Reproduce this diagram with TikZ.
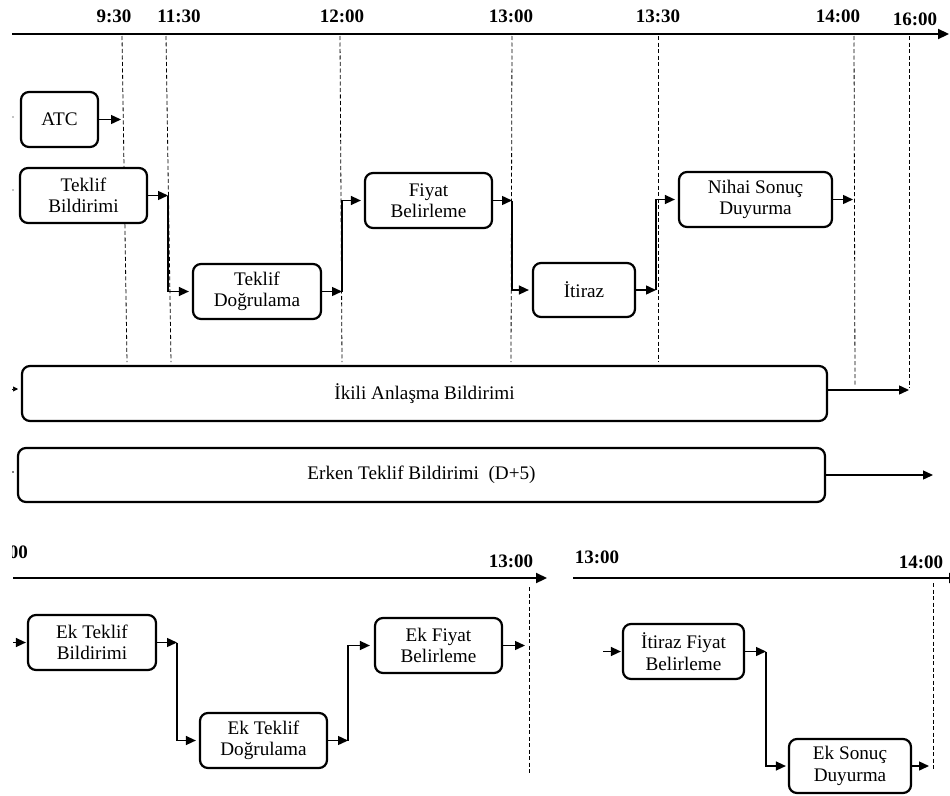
\documentclass[tikz,border=0pt]{standalone}
\usepackage{fontspec}
\setmainfont{Liberation Serif}
\usetikzlibrary{arrows.meta}
\newcommand\bxfont{\fontsize{19.2}{21.5}\selectfont}
\newcommand\tlfont{\fontsize{19}{21}\selectfont\bfseries}
\tikzset{
  box/.style={draw, line width=2.2pt, rounded corners=8pt, fill=white,
    align=center, inner sep=0pt, font=\bxfont},
  arr/.style={line width=1.4pt, -{Triangle[length=10pt,width=9pt]}},
  guide/.style={line width=0.8pt, dash pattern=on 4pt off 2.5pt},
  axis/.style={line width=2.2pt, -{Triangle[length=11pt,width=10pt]}},
  tlabel/.style={font=\tlfont, anchor=base, inner sep=0pt},
  stub/.style={-{Triangle[length=5pt,width=5pt]}, line width=0.6pt},
}
\begin{document}
\begin{tikzpicture}[x=1pt,y=-1pt]
\useasboundingbox (0,0) rectangle (950,795);
\clip (0,0) rectangle (950,795);

% ---------- main day timeline ----------
\coordinate (ax0) at (12,34);
\coordinate (ax1) at (949,34);
\draw[axis] (ax0) -- (ax1);
\node[tlabel] (t0930) at (114,23) {9:30};
\node[tlabel] (t1130) at (179,23) {11:30};
\node[tlabel] (t1200) at (342,23) {12:00};
\node[tlabel] (t1300) at (511,23) {13:00};
\node[tlabel] (t1330) at (658,23) {13:30};
\node[tlabel] (t1400) at (838,22) {14:00};
\node[tlabel] (t1600) at (915,25) {16:00};

% time guides
\draw[guide] (122,36) -- (127,362);
\draw[guide] (166,36) -- (171,362);
\draw[guide] (340,36) -- (342,362);
\draw[guide] (512,36) -- (511,362);
\draw[guide] (658,36) -- (658,362);
\draw[guide] (854,36) -- (855,385);
\draw[guide] (909,36) -- (909,388);

% ---------- process boxes ----------
\node[box, minimum width=77pt,  minimum height=55pt] (ATC) at (59.5,119.5) {ATC};
\node[box, minimum width=127pt, minimum height=55pt] (TB)  at (83.5,195.5) {Teklif\\Bildirimi};
\node[box, minimum width=128pt, minimum height=55pt] (TD)  at (257,291.5) {Teklif\\Doğrulama};
\node[box, minimum width=127pt, minimum height=55pt] (FB)  at (428.5,200.5) {Fiyat\\Belirleme};
\node[box, minimum width=102pt, minimum height=54pt] (IT)  at (584,290) {İtiraz};
\node[box, minimum width=153pt, minimum height=55pt] (NS)  at (755.5,199.5) {Nihai Sonuç\\Duyurma};
\node[box, minimum width=805pt, minimum height=55pt] (IK)  at (424.5,393.5) {İkili Anlaşma Bildirimi};
\node[box, minimum width=807pt, minimum height=54pt] (ER)  at (421.5,475) {Erken Teklif Bildirimi\ \ (D+5)};

% incoming stubs at the left edge
\fill (13,117) circle (0.7);
\fill (13,190) circle (0.7);
\coordinate (sIK0) at (12,389);
\coordinate (sIK1) at (18,389);
\draw[stub] (sIK0) -- (sIK1);
\fill (13,472) circle (0.8);

% junctions on the time guides
\coordinate (a1) at (121,119.5);
\coordinate (j1) at (168,195.5);
\coordinate (j2) at (342,291.5);
\coordinate (j3) at (512,200.5);
\coordinate (j4) at (656,290);
\coordinate (j5) at (853,199.5);
\coordinate (j6) at (909,390);
\coordinate (j7) at (933,475);

\draw[arr] (ATC.east) -- (a1);
\draw[arr] (TB.east) -- (j1);
\draw[arr, shorten >=3pt] (j1) |- (TD.west);
\draw[arr] (TD.east) -- (j2);
\draw[arr, shorten >=3pt] (j2) |- (FB.west);
\draw[arr] (FB.east) -- (j3);
\draw[arr, shorten >=3pt] (j3) |- (IT.west);
\draw[arr] (IT.east) -- (j4);
\draw[arr, shorten >=3pt] (j4) |- (NS.west);
\draw[arr] (NS.east) -- (j5);
\draw[arr] ([yshift=3.5pt]IK.east) -- (j6);
\draw[arr] (ER.east) -- (j7);

% ---------- additional session (left) ----------
\coordinate (bx0) at (13,578);
\coordinate (bx1) at (547,578);
\draw[axis] (bx0) -- (bx1);
% start label, partly hidden behind the left margin
\begin{scope}
  \clip (12,530) rectangle (60,570);
  \node[tlabel, anchor=base east] (tb12) at (28,558) {12:00};
\end{scope}
\node[tlabel] (tb13) at (511,567) {13:00};
\draw[guide] (529,587) -- (529,773);

\node[box, minimum width=128pt, minimum height=55pt] (ETB) at (92,642.5) {Ek Teklif\\Bildirimi};
\node[box, minimum width=127pt, minimum height=55pt] (ETD) at (263.5,740.5) {Ek Teklif\\Doğrulama};
\node[box, minimum width=127pt, minimum height=55pt] (EFB) at (438.5,645.5) {Ek Fiyat\\Belirleme};

\coordinate (e0) at (13,642.5);
\coordinate (j8) at (177,642.5);
\coordinate (j9) at (348,740.5);
\coordinate (j10) at (525,645.5);
\draw[arr, shorten >=1pt] (e0) -- (ETB.west);
\draw[arr] (ETB.east) -- (j8);
\draw[arr, shorten >=3pt] (j8) |- (ETD.west);
\draw[arr] (ETD.east) -- (j9);
\draw[arr, shorten >=4pt] (j9) |- (EFB.west);
\draw[arr] (EFB.east) -- (j10);

% ---------- objection session (right) ----------
\coordinate (cx0) at (573,578);
\coordinate (cx1) at (960,578);
\draw[axis] (cx0) -- (cx1);
\node[tlabel] (tc13) at (597,563) {13:00};
\node[tlabel] (tc14) at (921,568) {14:00};
\draw[guide] (933,583) -- (933,770);

\node[box, minimum width=121pt, minimum height=55pt] (IFB) at (683.5,651.5) {İtiraz Fiyat\\Belirleme};
\node[box, minimum width=122pt, minimum height=54pt] (ESD) at (850,766) {Ek Sonuç\\Duyurma};

\coordinate (f0) at (603,651.5);
\coordinate (j11) at (766,651.5);
\coordinate (j12) at (929,766);
\draw[arr, shorten >=1pt] (f0) -- (IFB.west);
\draw[arr] (IFB.east) -- (j11);
\draw[arr, shorten >=2pt] (j11) |- (ESD.west);
\draw[arr] (ESD.east) -- (j12);
\end{tikzpicture}
\end{document}
